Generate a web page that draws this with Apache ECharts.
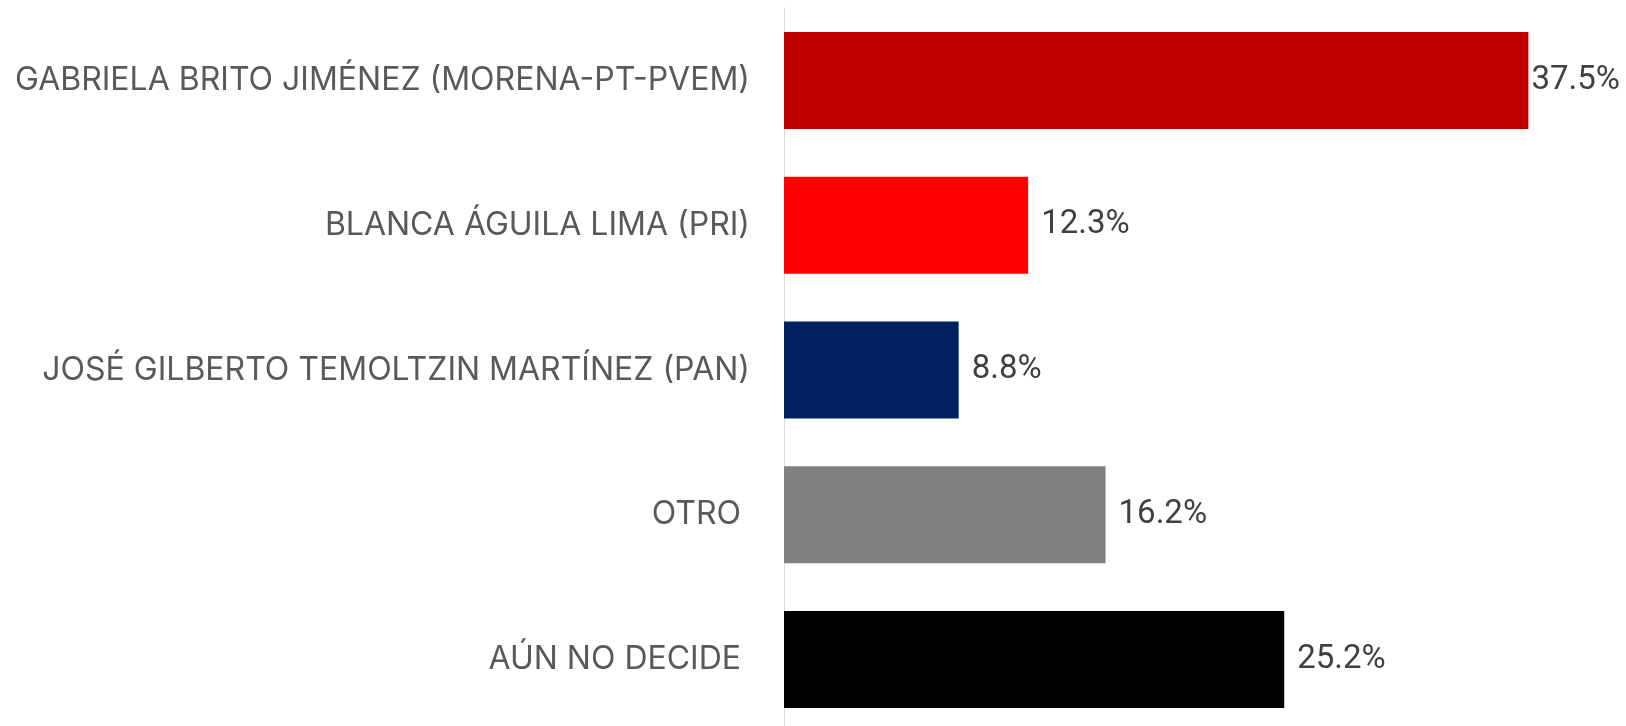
<!DOCTYPE html>
<html>
<head>
<meta charset="utf-8">
<script src="https://cdn.jsdelivr.net/npm/echarts@6/dist/echarts.min.js"></script>
<style>
	html, body { margin: 0; padding: 0; background: #ffffff; }
	#chart { width: 1626px; height: 726px; }
</style>
</head>
<body>
<div id="chart"></div>
<script>
// categorias (de arriba hacia abajo)
var categories = [
	'GABRIELA BRITO JIMÉNEZ (MORENA-PT-PVEM)',
	'BLANCA ÁGUILA LIMA (PRI)',
	'JOSÉ GILBERTO TEMOLTZIN MARTÍNEZ (PAN)',
	'OTRO ',
	'AÚN NO DECIDE '
];
// porcentajes
var values = [37.5, 12.3, 8.8, 16.2, 25.2];
// colores por barra
var barColors = ['#C00000', '#FF0000', '#002060', '#808080', '#000000'];

var chart = echarts.init(document.getElementById('chart'));

var seriesData = [];
for (var i = 0; i < values.length; i++) {
	seriesData.push({
		value : values[i],
		itemStyle : { color : barColors[i] },
		// la primera etiqueta queda pegada a la barra
		label : { distance : i == 0 ? 3 : 13 }
	});
}

chart.setOption({
	animation : false,
	grid : {
		left : 784,
		top : 8,
		width : 794,
		height : 724,
		outerBoundsMode : 'none'
	},
	xAxis : {
		type : 'value',
		min : 0,
		max : 40,
		show : false
	},
	yAxis : {
		type : 'category',
		data : categories,
		inverse : true,
		axisLine : { lineStyle : { color : '#d9d9d9', width : 1 } },
		axisTick : { show : false },
		axisLabel : {
			margin : 34,
			color : '#595959',
			fontFamily : 'Inter',
			fontSize : 32
		}
	},
	series : [{
		type : 'bar',
		data : seriesData,
		barWidth : 97,
		label : {
			show : true,
			position : 'right',
			color : '#404040',
			fontFamily : 'Roboto',
			fontSize : 33,
			formatter : function(p) {
				return p.value.toFixed(1) + '%';
			}
		}
	}]
});
</script>
</body>
</html>
